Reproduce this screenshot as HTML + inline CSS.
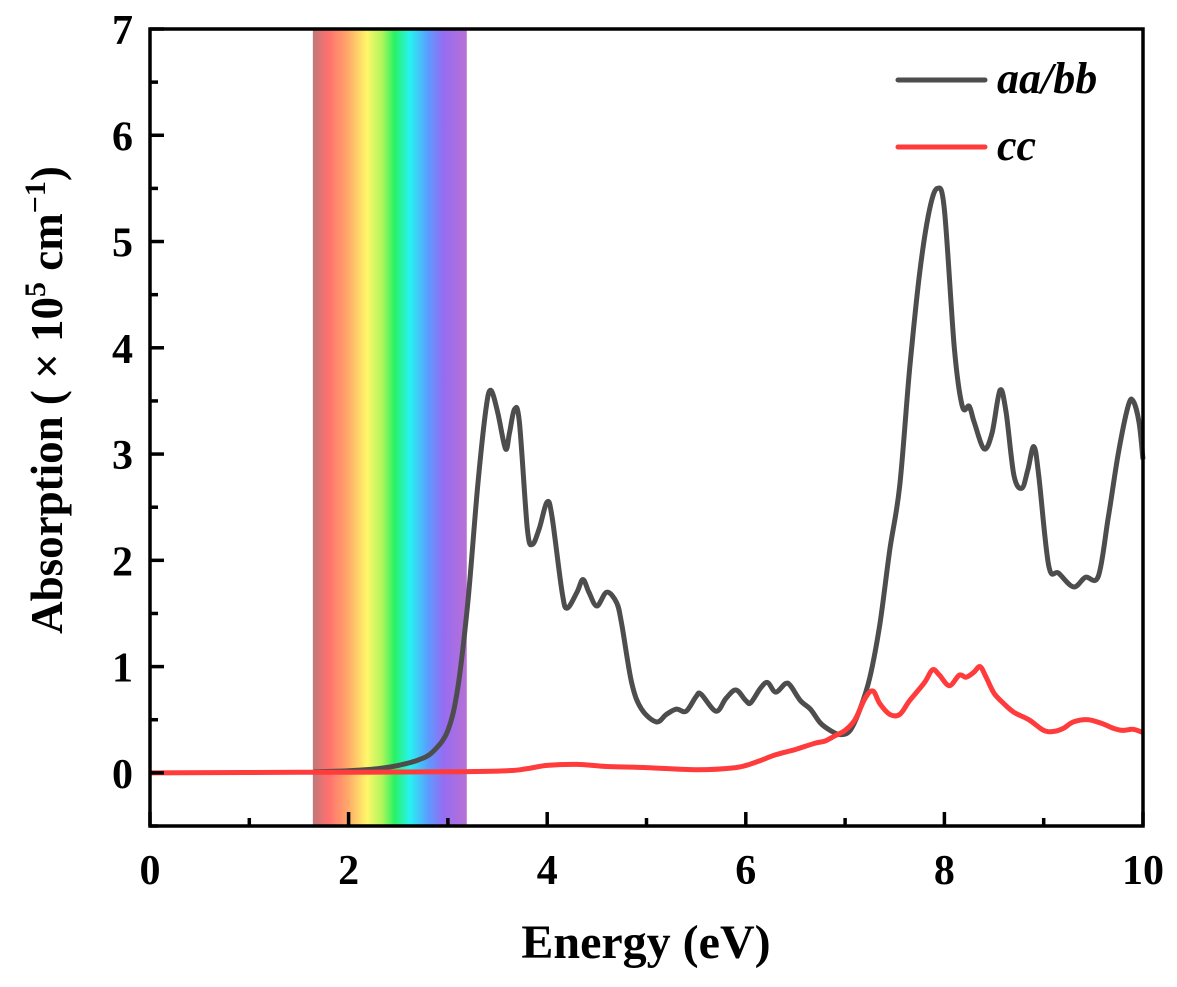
<!DOCTYPE html>
<html><head><meta charset="utf-8"><style>
body{margin:0;background:#fff}
svg text{font-family:"Liberation Serif",serif;font-weight:bold}
</style></head><body>
<svg width="1177" height="982" viewBox="0 0 1177 982">
<defs>
<linearGradient id="spec" x1="0" x2="1" y1="0" y2="0">
<stop offset="0" stop-color="#b86a6a"/>
<stop offset="0.1" stop-color="#ff5f5f"/>
<stop offset="0.22" stop-color="#ff9a5a"/>
<stop offset="0.35" stop-color="#fff55a"/>
<stop offset="0.45" stop-color="#a8f54a"/>
<stop offset="0.53" stop-color="#10f050"/>
<stop offset="0.63" stop-color="#10f0f0"/>
<stop offset="0.75" stop-color="#4a90ff"/>
<stop offset="0.85" stop-color="#8a5cf0"/>
<stop offset="1" stop-color="#b060d0"/>
</linearGradient>
</defs>
<g id="plot"></g>
</svg>
<script>
const xTicks=[0,2,4,6,8,10];
const yTicks=[0,1,2,3,4,5,6,7];
const bandRange=[1.64,3.19];
const aaX=[1.65,2.0,2.3,2.5,2.7,2.85,3.0,3.1,3.2,3.3,3.38,3.43,3.5,3.58,3.62,3.67,3.72,3.8,3.85,3.92,4.0,4.05,4.15,4.2,4.3,4.36,4.42,4.5,4.6,4.7,4.75,4.85,4.95,5.1,5.2,5.3,5.4,5.5,5.55,5.7,5.8,5.9,6.0,6.05,6.15,6.22,6.3,6.4,6.45,6.55,6.65,6.75,6.85,6.95,7.05,7.15,7.25,7.35,7.45,7.55,7.65,7.75,7.85,7.93,8.0,8.1,8.18,8.25,8.3,8.4,8.48,8.56,8.62,8.7,8.78,8.84,8.9,8.95,9.05,9.15,9.3,9.42,9.55,9.65,9.75,9.85,9.9,9.96,10.0];
const aaY=[0.01,0.02,0.04,0.07,0.12,0.2,0.4,0.8,1.6,2.7,3.4,3.6,3.4,3.05,3.2,3.42,3.3,2.3,2.15,2.3,2.55,2.4,1.7,1.55,1.7,1.82,1.7,1.57,1.7,1.6,1.4,0.85,0.6,0.48,0.55,0.6,0.58,0.72,0.74,0.58,0.7,0.78,0.68,0.66,0.8,0.85,0.76,0.84,0.82,0.68,0.6,0.47,0.4,0.36,0.4,0.6,0.9,1.4,2.1,2.7,3.8,4.7,5.3,5.5,5.3,4.0,3.45,3.45,3.3,3.05,3.2,3.6,3.4,2.8,2.68,2.85,3.07,2.8,1.95,1.88,1.75,1.84,1.85,2.4,3.0,3.45,3.5,3.3,2.95];
const ccX=[0,1.5,3,3.6,3.8,4.0,4.3,4.6,5,5.5,5.9,6.1,6.3,6.5,6.7,6.8,6.9,7.0,7.1,7.2,7.28,7.35,7.45,7.55,7.65,7.8,7.88,7.95,8.05,8.15,8.22,8.3,8.36,8.42,8.5,8.6,8.7,8.85,9.0,9.1,9.2,9.3,9.45,9.6,9.7,9.8,9.9,10];
const ccY=[0,0.005,0.01,0.02,0.04,0.07,0.08,0.06,0.05,0.03,0.05,0.1,0.17,0.22,0.28,0.3,0.35,0.4,0.5,0.7,0.77,0.65,0.55,0.55,0.68,0.85,0.97,0.92,0.82,0.92,0.9,0.95,1.0,0.9,0.75,0.65,0.57,0.5,0.4,0.39,0.42,0.48,0.5,0.46,0.42,0.4,0.41,0.38];

const L=150,R=1143,T=29,B=826;
const xs=v=>L+(v-0)/(10-0)*(R-L);
const ys=v=>B-(v-(-0.5))/(7-(-0.5))*(B-T);
const NS='http://www.w3.org/2000/svg';
const g=document.getElementById('plot');
function mk(tag,attrs,parent){const e=document.createElementNS(NS,tag);for(const k in attrs)e.setAttribute(k,attrs[k]);(parent||g).appendChild(e);return e;}

const band=mk('rect',{x:xs(bandRange[0]),y:T,width:xs(bandRange[1])-xs(bandRange[0]),height:B-T,fill:'url(#spec)',opacity:0.9});



function smooth(X,Y){
  const p=X.map((x,i)=>[xs(x),ys(Y[i])]);
  let d='M'+p[0][0].toFixed(1)+','+p[0][1].toFixed(1);
  for(let i=0;i<p.length-1;i++){
    const p0=p[i-1]||p[i],p1=p[i],p2=p[i+1],p3=p[i+2]||p2;
    const c1=[p1[0]+(p2[0]-p0[0])/6,p1[1]+(p2[1]-p0[1])/6];
    const c2=[p2[0]-(p3[0]-p1[0])/6,p2[1]-(p3[1]-p1[1])/6];
    d+=' C'+c1.map(v=>v.toFixed(1))+' '+c2.map(v=>v.toFixed(1))+' '+p2.map(v=>v.toFixed(1));
  }
  return d;
}
const l1=mk('path',{d:smooth(aaX,aaY),fill:'none',stroke:'#4d4d4d','stroke-width':5,'stroke-linejoin':'round'});


const l2=mk('path',{d:smooth(ccX,ccY),fill:'none',stroke:'#ff3b3b','stroke-width':5,'stroke-linejoin':'round'});



const frame=mk('rect',{x:L,y:T,width:R-L,height:B-T,fill:'none',stroke:'#000','stroke-width':3.5});



for(let v=0;v<=10;v+=1){
  const maj=v%2===0;
  const t=mk('line',{x1:xs(v),x2:xs(v),y1:B,y2:B-(maj?14:8),stroke:'#000','stroke-width':3.5});
  
  
}
xTicks.forEach(v=>{
  const t=mk('text',{x:xs(v),y:884,'font-size':42,'text-anchor':'middle'});
  t.textContent=v;
  
  
});
for(let v=-0.5;v<=7;v+=0.5){
  const maj=Number.isInteger(v);
  const t=mk('line',{x1:L,x2:L+(maj?14:8),y1:ys(v),y2:ys(v),stroke:'#000','stroke-width':3.5});
  
  
}
yTicks.forEach(v=>{
  const t=mk('text',{x:133,y:ys(v)+15,'font-size':42,'text-anchor':'end'});
  t.textContent=v;
  
  
});

const xt=mk('text',{x:646,y:958,'font-size':48,'text-anchor':'middle'});
xt.textContent='Energy (eV)';



const yt=mk('text',{transform:'translate(62,400) rotate(-90)','font-size':45,'text-anchor':'middle'});


yt.innerHTML='Absorption ( × 10<tspan dy="-17" font-size="30">5</tspan><tspan dy="17"> cm</tspan><tspan dy="-17" font-size="30">−1</tspan><tspan dy="17">)</tspan>';

[['aa/bb','#4d4d4d',80],['cc','#ff3b3b',147]].forEach(([n,c,y])=>{
  const ln=mk('line',{x1:898,x2:985,y1:y,y2:y,stroke:c,'stroke-width':5,'stroke-linecap':'round'});
  
  
  const t=mk('text',{x:997,y:y+13,'font-size':44,'font-style':'italic'});
  t.textContent=n;
  
  
});
</script>
</body></html>
